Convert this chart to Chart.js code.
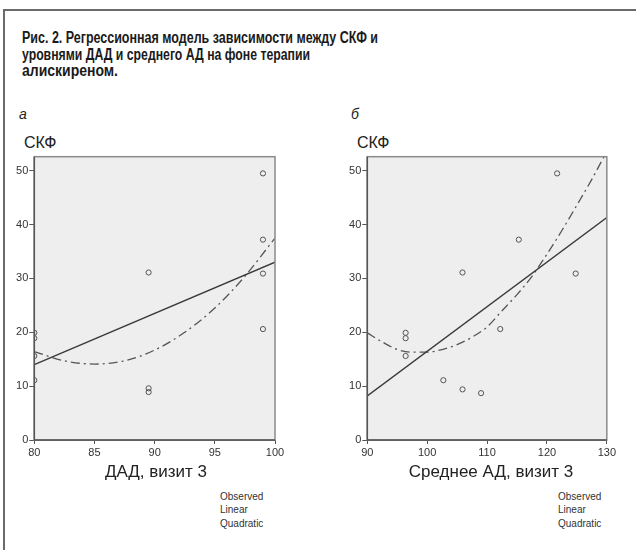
<!DOCTYPE html>
<html>
<head>
<meta charset="utf-8">
<script src="https://cdn.jsdelivr.net/npm/chart.js@4/dist/chart.umd.min.js"></script>
<style>
  html, body { margin: 0; padding: 0; background: #fff; }
  body { width: 636px; height: 550px; position: relative; overflow: hidden; font-family: "Liberation Sans", Arial, sans-serif; color: #222; }
  .frame-top { position: absolute; left: 3px; top: 9px; width: 640px; height: 0; border-top: 2px solid #6a6a6a; }
  .frame-left { position: absolute; left: 3px; top: 9px; width: 0; height: 560px; border-left: 2px solid #6a6a6a; }
  .title { position: absolute; left: 22px; font-weight: bold; font-size: 16px; white-space: nowrap; transform-origin: 0 50%; color: #1a1a1a; }
  .txt { position: absolute; white-space: nowrap; color: #222; }
  .panel { position: absolute; font-style: italic; font-size: 14px; }
  .ylab { font-size: 16px; }
  .xlab { font-size: 17px; transform: translateX(-50%); }
  .leg { font-size: 10px; line-height: 13.3px; color: #333; }
  canvas { position: absolute; }
</style>
</head>
<body>
<div class="frame-top"></div>
<div class="frame-left"></div>

<div class="title" id="t1" style="top:29px">Рис. 2. Регрессионная модель зависимости между СКФ и</div>
<div class="title" id="t2" style="top:46px">уровнями ДАД и среднего АД на фоне терапии</div>
<div class="title" id="t3" style="top:62px">алискиреном.</div>

<div class="txt panel" style="left:19px; top:106px">а</div>
<div class="txt panel" style="left:351px; top:106px">б</div>
<div class="txt ylab" style="left:24px; top:134px">СКФ</div>
<div class="txt ylab" style="left:357px; top:134px">СКФ</div>

<canvas id="left" width="290" height="330" style="left:0px; top:145px"></canvas>
<canvas id="right" width="300" height="330" style="left:318px; top:145px"></canvas>

<div class="txt xlab" style="left:156px; top:462px">ДАД, визит 3</div>
<div class="txt xlab" style="left:491px; top:462px">Среднее АД, визит 3</div>

<div class="txt leg" style="left:220px; top:490px">Observed<br>Linear<br>Quadratic</div>
<div class="txt leg" style="left:558px; top:490px">Observed<br>Linear<br>Quadratic</div>

<script>
// panel а: СКФ vs ДАД, визит 3
const dadObsX = [99, 99, 99, 99, 89.5, 89.5, 89.5, 80, 80, 80, 80];
const dadObsY = [49.5, 37.2, 30.9, 20.6, 31.1, 9.6, 8.9, 19.9, 18.9, 15.6, 11.1];
const dadLinX = [80, 100];
const dadLinY = [14.0, 33.0];
const dadQuadX = [80, 82.5, 85, 87.5, 90, 92.5, 95, 97.5, 100];
const dadQuadY = [16.4, 14.7, 14.1, 14.7, 16.7, 20.0, 24.5, 30.4, 37.5];
const dadTicks = [80, 85, 90, 95, 100];

// panel б: СКФ vs Среднее АД, визит 3
const madObsX = [121.7, 115.3, 105.9, 124.8, 112.2, 96.4, 96.4, 96.4, 102.7, 105.9, 109.0];
const madObsY = [49.5, 37.2, 31.1, 30.9, 20.6, 19.9, 18.9, 15.6, 11.1, 9.4, 8.7];
const madLinX = [90, 130];
const madLinY = [8.2, 41.3];
const madQuadX = [90, 92.5, 95, 97.5, 100, 102.5, 105, 107.5, 110, 112.5, 115, 117.5, 120, 122.5, 125, 127.5, 130];
const madQuadY = [19.9, 18.2, 16.8, 16.3, 16.3, 16.8, 17.7, 19.1, 21.0, 24.0, 27.0, 30.4, 34.5, 38.9, 43.6, 48.4, 53.6];
const madTicks = [90, 100, 110, 120, 130];

const skfTicks = [0, 10, 20, 30, 40, 50];
const skfMax = 52.6;

const pts = (xs, ys) => xs.map((x, i) => ({ x: x, y: ys[i] }));

const plotBox = {
  id: 'plotBox',
  beforeDraw(chart) {
    const a = chart.chartArea, ctx = chart.ctx;
    ctx.save();
    ctx.fillStyle = '#eeeeee';
    ctx.fillRect(a.left, a.top, a.right - a.left, a.bottom - a.top);
    ctx.restore();
  },
  afterDraw(chart) {
    const a = chart.chartArea, ctx = chart.ctx;
    ctx.save();
    ctx.strokeStyle = '#8a8a8a';
    ctx.lineWidth = 1.5;
    ctx.strokeRect(a.left, a.top, a.right - a.left, a.bottom - a.top);
    ctx.strokeStyle = '#555';
    ctx.beginPath();
    ctx.moveTo(a.left, a.top);
    ctx.lineTo(a.left, a.bottom);
    ctx.lineTo(a.right, a.bottom);
    ctx.stroke();
    ctx.restore();
  }
};

function makeChart(id, obsX, obsY, linX, linY, quadX, quadY, xTicks, yAxisW, padRight) {
  const tickFont = { family: '"Liberation Sans", Arial, sans-serif', size: 11 };
  new Chart(document.getElementById(id), {
    type: 'scatter',
    data: {
      datasets: [
        {
          label: 'Observed',
          data: pts(obsX, obsY),
          pointRadius: 2.6,
          pointBorderWidth: 1,
          pointBorderColor: '#555',
          pointBackgroundColor: 'rgba(0,0,0,0)',
          clip: 0
        },
        {
          label: 'Linear',
          data: pts(linX, linY),
          showLine: true,
          pointRadius: 0,
          borderColor: '#3a3a3a',
          borderWidth: 1.4,
          clip: 0
        },
        {
          label: 'Quadratic',
          data: pts(quadX, quadY),
          showLine: true,
          pointRadius: 0,
          cubicInterpolationMode: 'monotone',
          borderColor: '#555',
          borderWidth: 1.3,
          borderDash: [9, 4, 2, 4],
          clip: 0
        }
      ]
    },
    options: {
      responsive: false,
      devicePixelRatio: 1,
      animation: false,
      events: [],
      layout: { padding: { top: 11.7, right: padRight, left: 0, bottom: 0 } },
      plugins: { legend: { display: false }, tooltip: { enabled: false } },
      scales: {
        x: {
          type: 'linear',
          min: xTicks[0],
          max: xTicks[xTicks.length - 1],
          afterBuildTicks: s => { s.ticks = xTicks.map(v => ({ value: v })); },
          afterFit: s => { s.height = 35; },
          grid: { drawOnChartArea: false, drawTicks: true, tickLength: 4, color: '#555' },
          border: { display: true, color: '#555' },
          ticks: { color: '#333', font: tickFont, padding: 2, maxRotation: 0 }
        },
        y: {
          type: 'linear',
          min: 0,
          max: skfMax,
          afterBuildTicks: s => { s.ticks = skfTicks.map(v => ({ value: v })); },
          afterFit: s => { s.width = yAxisW; },
          grid: { drawOnChartArea: false, drawTicks: true, tickLength: 5, color: '#555' },
          border: { display: true, color: '#555' },
          ticks: { color: '#333', font: tickFont, padding: 1 }
        }
      }
    },
    plugins: [plotBox]
  });
}

makeChart('left', dadObsX, dadObsY, dadLinX, dadLinY, dadQuadX, dadQuadY, dadTicks, 34.3, 15);
makeChart('right', madObsX, madObsY, madLinX, madLinY, madQuadX, madQuadY, madTicks, 49.3, 9);

// fit the condensed bold caption lines to the widths seen in the figure
const titleW = { t1: 356, t2: 288, t3: 96 };
Object.keys(titleW).forEach(id => {
  const el = document.getElementById(id);
  const w = el.getBoundingClientRect().width;
  el.style.transform = 'scaleX(' + (titleW[id] / w) + ')';
});
</script>
</body>
</html>
